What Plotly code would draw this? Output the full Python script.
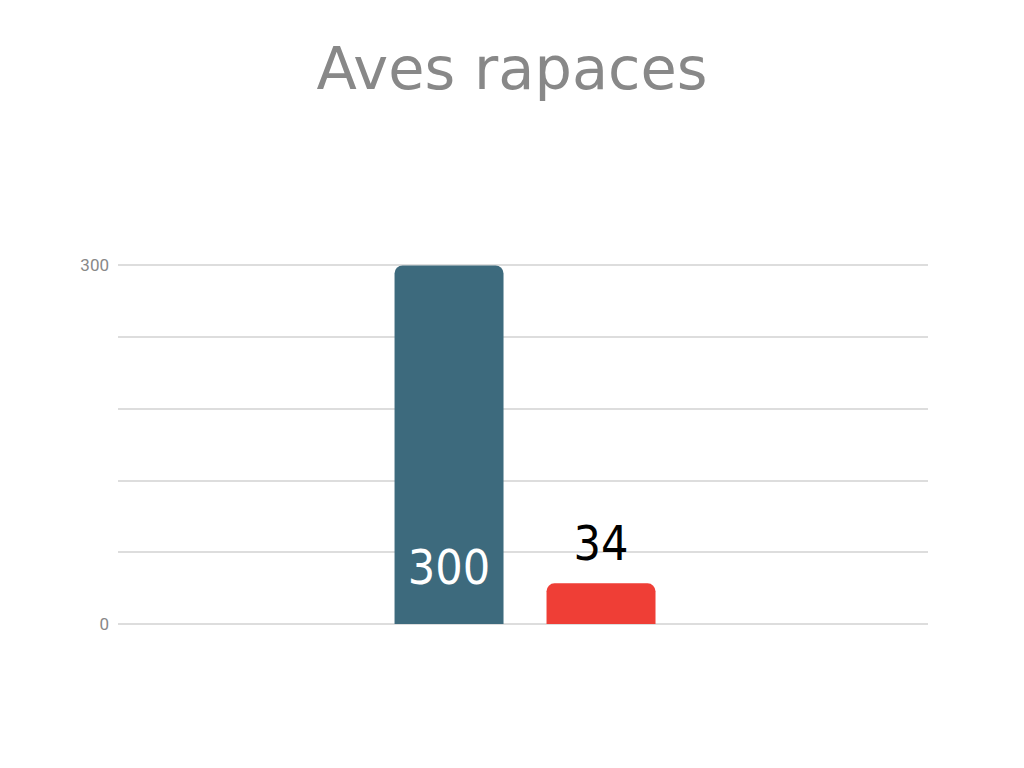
import plotly.graph_objects as go

title = "Aves rapaces"
categories = [""]
series_names = ["Serie 1", "Serie 2"]
series_values = [[300], [34]]
series_colors = ["#3d6a7d", "#ef3e36"]
tick_vals = [0, 60, 120, 180, 240, 300]
tick_text = ["0", "", "", "", "", "300"]

label_font = "DejaVu Sans Condensed, Liberation Sans Narrow, sans-serif"

fig = go.Figure()
fig.add_trace(go.Bar(
    x=categories, y=series_values[0], name=series_names[0],
    marker=dict(color=series_colors[0], line=dict(width=0)),
    texttemplate="<span style='font-size:48px'>%{y}</span><br> ",
    textposition="inside", insidetextanchor="start",
    textfont=dict(family=label_font, size=24, color="white"),
))
fig.add_trace(go.Bar(
    x=categories, y=series_values[1], name=series_names[1],
    marker=dict(color=series_colors[1], line=dict(width=0)),
    texttemplate="<span style='font-size:48px'>%{y}</span><br>&nbsp;",
    textposition="outside",
    textfont=dict(family=label_font, size=13, color="black"),
    cliponaxis=False,
))

fig.update_layout(
    width=1024, height=768,
    paper_bgcolor="white", plot_bgcolor="white",
    margin=dict(l=110, r=104, t=255, b=152),
    barmode="group", bargap=0.6247, bargroupgap=0.283,
    barcornerradius=8,
    showlegend=False,
    title=dict(text=title, x=504 / 1024, xanchor="center", y=1 - 60 / 768, yanchor="middle",
               yref="container",
               font=dict(family="DejaVu Sans", size=59, color="#888888")),
    xaxis=dict(range=[-0.5025, 0.4975], showticklabels=False, showgrid=False,
               zeroline=False, showline=False, ticks=""),
    yaxis=dict(range=[0, 302], tickvals=tick_vals, ticktext=tick_text,
               showgrid=True, gridcolor="#dddddd", gridwidth=2,
               zeroline=True, zerolinecolor="#dddddd", zerolinewidth=2,
               showline=False, ticks="", ticklabelstandoff=8,
               tickfont=dict(family="Roboto, Liberation Sans, sans-serif", size=17, color="#888888")),
)

fig.write_html("out.html")
